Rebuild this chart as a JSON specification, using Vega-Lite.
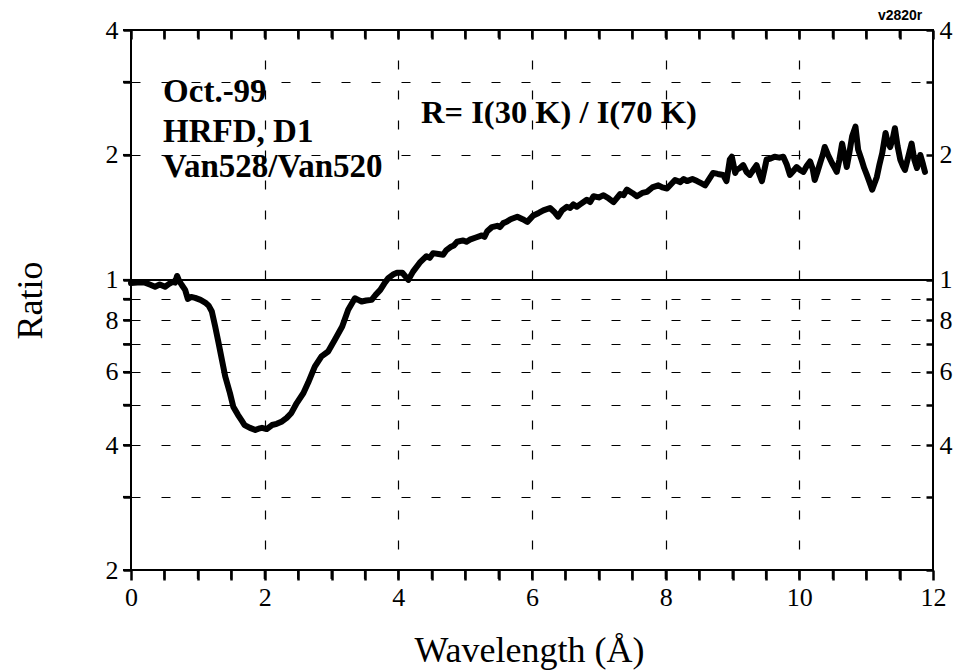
{
  "$schema": "https://vega.github.io/schema/vega-lite/v6.json",
  "width": 802,
  "height": 540,
  "autosize": {"type": "none"},
  "padding": {"left": 131, "top": 30, "right": 21, "bottom": 102},
  "background": "white",
  "config": {
    "view": {"stroke": "black", "strokeWidth": 2},
    "font": "Liberation Serif"
  },
  "datasets": {
    "ratio": [
      {"wavelength": 0.00, "ratio": 0.983}, {"wavelength": 0.10, "ratio": 0.985}, {"wavelength": 0.21, "ratio": 0.985},
      {"wavelength": 0.28, "ratio": 0.975}, {"wavelength": 0.36, "ratio": 0.963}, {"wavelength": 0.43, "ratio": 0.975},
      {"wavelength": 0.51, "ratio": 0.963}, {"wavelength": 0.57, "ratio": 0.978}, {"wavelength": 0.63, "ratio": 0.99},
      {"wavelength": 0.66, "ratio": 0.985}, {"wavelength": 0.69, "ratio": 1.022}, {"wavelength": 0.72, "ratio": 0.995},
      {"wavelength": 0.76, "ratio": 0.972}, {"wavelength": 0.81, "ratio": 0.946}, {"wavelength": 0.85, "ratio": 0.90},
      {"wavelength": 0.90, "ratio": 0.91}, {"wavelength": 0.96, "ratio": 0.905}, {"wavelength": 1.04, "ratio": 0.895},
      {"wavelength": 1.11, "ratio": 0.882}, {"wavelength": 1.16, "ratio": 0.868}, {"wavelength": 1.21, "ratio": 0.839},
      {"wavelength": 1.26, "ratio": 0.772}, {"wavelength": 1.31, "ratio": 0.705}, {"wavelength": 1.36, "ratio": 0.642},
      {"wavelength": 1.41, "ratio": 0.585}, {"wavelength": 1.48, "ratio": 0.534}, {"wavelength": 1.53, "ratio": 0.495},
      {"wavelength": 1.60, "ratio": 0.473}, {"wavelength": 1.65, "ratio": 0.46}, {"wavelength": 1.70, "ratio": 0.447},
      {"wavelength": 1.78, "ratio": 0.44}, {"wavelength": 1.86, "ratio": 0.435}, {"wavelength": 1.91, "ratio": 0.438},
      {"wavelength": 1.96, "ratio": 0.44}, {"wavelength": 2.03, "ratio": 0.437}, {"wavelength": 2.11, "ratio": 0.447},
      {"wavelength": 2.18, "ratio": 0.45}, {"wavelength": 2.26, "ratio": 0.456}, {"wavelength": 2.33, "ratio": 0.465},
      {"wavelength": 2.40, "ratio": 0.478}, {"wavelength": 2.48, "ratio": 0.505}, {"wavelength": 2.58, "ratio": 0.534},
      {"wavelength": 2.65, "ratio": 0.565}, {"wavelength": 2.75, "ratio": 0.618}, {"wavelength": 2.85, "ratio": 0.654},
      {"wavelength": 2.95, "ratio": 0.672}, {"wavelength": 3.05, "ratio": 0.717}, {"wavelength": 3.16, "ratio": 0.772},
      {"wavelength": 3.25, "ratio": 0.847}, {"wavelength": 3.35, "ratio": 0.903}, {"wavelength": 3.40, "ratio": 0.895},
      {"wavelength": 3.45, "ratio": 0.887}, {"wavelength": 3.52, "ratio": 0.892}, {"wavelength": 3.60, "ratio": 0.895},
      {"wavelength": 3.66, "ratio": 0.92}, {"wavelength": 3.73, "ratio": 0.946}, {"wavelength": 3.79, "ratio": 0.98},
      {"wavelength": 3.85, "ratio": 1.01}, {"wavelength": 3.92, "ratio": 1.03}, {"wavelength": 3.98, "ratio": 1.04},
      {"wavelength": 4.06, "ratio": 1.04}, {"wavelength": 4.15, "ratio": 1.00}, {"wavelength": 4.22, "ratio": 1.047},
      {"wavelength": 4.32, "ratio": 1.10}, {"wavelength": 4.37, "ratio": 1.12}, {"wavelength": 4.42, "ratio": 1.14},
      {"wavelength": 4.47, "ratio": 1.13}, {"wavelength": 4.52, "ratio": 1.16},
      {"wavelength": 4.60, "ratio": 1.155}, {"wavelength": 4.67, "ratio": 1.15}, {"wavelength": 4.72, "ratio": 1.18},
      {"wavelength": 4.78, "ratio": 1.20}, {"wavelength": 4.83, "ratio": 1.21},
      {"wavelength": 4.88, "ratio": 1.236}, {"wavelength": 4.97, "ratio": 1.245}, {"wavelength": 5.02, "ratio": 1.235},
      {"wavelength": 5.07, "ratio": 1.25},
      {"wavelength": 5.16, "ratio": 1.265}, {"wavelength": 5.25, "ratio": 1.28}, {"wavelength": 5.29, "ratio": 1.27},
      {"wavelength": 5.33, "ratio": 1.31},
      {"wavelength": 5.40, "ratio": 1.34}, {"wavelength": 5.48, "ratio": 1.35}, {"wavelength": 5.52, "ratio": 1.34},
      {"wavelength": 5.57, "ratio": 1.37}, {"wavelength": 5.62, "ratio": 1.38},
      {"wavelength": 5.68, "ratio": 1.40}, {"wavelength": 5.78, "ratio": 1.42}, {"wavelength": 5.86, "ratio": 1.40},
      {"wavelength": 5.93, "ratio": 1.38}, {"wavelength": 6.02, "ratio": 1.43}, {"wavelength": 6.10, "ratio": 1.45},
      {"wavelength": 6.17, "ratio": 1.47}, {"wavelength": 6.27, "ratio": 1.49}, {"wavelength": 6.33, "ratio": 1.46},
      {"wavelength": 6.39, "ratio": 1.42}, {"wavelength": 6.45, "ratio": 1.47}, {"wavelength": 6.52, "ratio": 1.50},
      {"wavelength": 6.57, "ratio": 1.49},
      {"wavelength": 6.62, "ratio": 1.52}, {"wavelength": 6.67, "ratio": 1.50}, {"wavelength": 6.72, "ratio": 1.52},
      {"wavelength": 6.82, "ratio": 1.56}, {"wavelength": 6.87, "ratio": 1.54},
      {"wavelength": 6.92, "ratio": 1.59}, {"wavelength": 7.00, "ratio": 1.58}, {"wavelength": 7.07, "ratio": 1.60},
      {"wavelength": 7.15, "ratio": 1.57}, {"wavelength": 7.22, "ratio": 1.54}, {"wavelength": 7.32, "ratio": 1.61},
      {"wavelength": 7.37, "ratio": 1.60},
      {"wavelength": 7.42, "ratio": 1.65}, {"wavelength": 7.50, "ratio": 1.62}, {"wavelength": 7.57, "ratio": 1.59},
      {"wavelength": 7.65, "ratio": 1.62}, {"wavelength": 7.72, "ratio": 1.63}, {"wavelength": 7.80, "ratio": 1.67},
      {"wavelength": 7.89, "ratio": 1.69}, {"wavelength": 7.95, "ratio": 1.67}, {"wavelength": 8.02, "ratio": 1.66},
      {"wavelength": 8.08, "ratio": 1.70}, {"wavelength": 8.14, "ratio": 1.74}, {"wavelength": 8.22, "ratio": 1.72},
      {"wavelength": 8.27, "ratio": 1.75},
      {"wavelength": 8.32, "ratio": 1.73}, {"wavelength": 8.40, "ratio": 1.75}, {"wavelength": 8.47, "ratio": 1.73},
      {"wavelength": 8.53, "ratio": 1.71}, {"wavelength": 8.59, "ratio": 1.69}, {"wavelength": 8.65, "ratio": 1.75},
      {"wavelength": 8.71, "ratio": 1.81}, {"wavelength": 8.78, "ratio": 1.80}, {"wavelength": 8.86, "ratio": 1.79},
      {"wavelength": 8.91, "ratio": 1.73}, {"wavelength": 8.96, "ratio": 1.95}, {"wavelength": 8.99, "ratio": 1.98},
      {"wavelength": 9.04, "ratio": 1.81}, {"wavelength": 9.06, "ratio": 1.84}, {"wavelength": 9.11, "ratio": 1.86},
      {"wavelength": 9.16, "ratio": 1.89}, {"wavelength": 9.21, "ratio": 1.82}, {"wavelength": 9.26, "ratio": 1.79},
      {"wavelength": 9.31, "ratio": 1.84}, {"wavelength": 9.36, "ratio": 1.89}, {"wavelength": 9.40, "ratio": 1.80},
      {"wavelength": 9.44, "ratio": 1.73}, {"wavelength": 9.48, "ratio": 1.85}, {"wavelength": 9.51, "ratio": 1.95},
      {"wavelength": 9.57, "ratio": 1.96}, {"wavelength": 9.63, "ratio": 1.98}, {"wavelength": 9.70, "ratio": 1.97},
      {"wavelength": 9.76, "ratio": 1.98}, {"wavelength": 9.81, "ratio": 1.90}, {"wavelength": 9.86, "ratio": 1.79},
      {"wavelength": 9.91, "ratio": 1.83}, {"wavelength": 9.96, "ratio": 1.87}, {"wavelength": 10.01, "ratio": 1.84},
      {"wavelength": 10.06, "ratio": 1.82}, {"wavelength": 10.11, "ratio": 1.88}, {"wavelength": 10.16, "ratio": 1.93},
      {"wavelength": 10.20, "ratio": 1.85}, {"wavelength": 10.23, "ratio": 1.74}, {"wavelength": 10.27, "ratio": 1.82},
      {"wavelength": 10.31, "ratio": 1.91}, {"wavelength": 10.35, "ratio": 2.00}, {"wavelength": 10.38, "ratio": 2.09},
      {"wavelength": 10.43, "ratio": 2.00}, {"wavelength": 10.49, "ratio": 1.91}, {"wavelength": 10.53, "ratio": 1.86},
      {"wavelength": 10.56, "ratio": 1.82}, {"wavelength": 10.60, "ratio": 1.95}, {"wavelength": 10.64, "ratio": 2.13},
      {"wavelength": 10.68, "ratio": 1.98}, {"wavelength": 10.71, "ratio": 1.87}, {"wavelength": 10.75, "ratio": 2.03},
      {"wavelength": 10.79, "ratio": 2.22}, {"wavelength": 10.84, "ratio": 2.34}, {"wavelength": 10.88, "ratio": 2.06},
      {"wavelength": 10.93, "ratio": 1.95}, {"wavelength": 10.97, "ratio": 1.86}, {"wavelength": 11.01, "ratio": 1.79},
      {"wavelength": 11.05, "ratio": 1.72}, {"wavelength": 11.09, "ratio": 1.65}, {"wavelength": 11.12, "ratio": 1.70},
      {"wavelength": 11.16, "ratio": 1.77}, {"wavelength": 11.20, "ratio": 1.90}, {"wavelength": 11.24, "ratio": 2.02},
      {"wavelength": 11.29, "ratio": 2.26}, {"wavelength": 11.32, "ratio": 2.15}, {"wavelength": 11.36, "ratio": 2.09},
      {"wavelength": 11.40, "ratio": 2.20}, {"wavelength": 11.43, "ratio": 2.32}, {"wavelength": 11.47, "ratio": 2.10},
      {"wavelength": 11.51, "ratio": 1.95}, {"wavelength": 11.55, "ratio": 1.88}, {"wavelength": 11.58, "ratio": 1.84},
      {"wavelength": 11.63, "ratio": 1.98}, {"wavelength": 11.68, "ratio": 2.13}, {"wavelength": 11.72, "ratio": 1.95},
      {"wavelength": 11.76, "ratio": 1.86}, {"wavelength": 11.81, "ratio": 2.00}, {"wavelength": 11.85, "ratio": 1.90},
      {"wavelength": 11.88, "ratio": 1.82}
    ],
    "notes": [
      {"label": "Oct.-99", "line": 1},
      {"label": "HRFD, D1", "line": 2},
      {"label": "Van528/Van520", "line": 3}
    ],
    "xticks": [
      {"pos": 0.5}, {"pos": 1}, {"pos": 1.5}, {"pos": 2}, {"pos": 2.5}, {"pos": 3}, {"pos": 3.5}, {"pos": 4},
      {"pos": 4.5}, {"pos": 5}, {"pos": 5.5}, {"pos": 6}, {"pos": 6.5}, {"pos": 7}, {"pos": 7.5}, {"pos": 8},
      {"pos": 8.5}, {"pos": 9}, {"pos": 9.5}, {"pos": 10}, {"pos": 10.5}, {"pos": 11}, {"pos": 11.5}
    ],
    "yticks": [
      {"pos": 0.2}, {"pos": 0.3}, {"pos": 0.4}, {"pos": 0.5}, {"pos": 0.6}, {"pos": 0.7}, {"pos": 0.8}, {"pos": 0.9},
      {"pos": 1}, {"pos": 2}, {"pos": 3}, {"pos": 4}
    ]
  },
  "layer": [
    {
      "data": {"name": "ratio"},
      "mark": {"type": "line", "color": "black", "strokeWidth": 6, "strokeJoin": "round", "strokeCap": "round"},
      "encoding": {
        "x": {
          "field": "wavelength", "type": "quantitative",
          "scale": {"domain": [0, 12], "nice": false, "zero": false},
          "axis": {
            "orient": "bottom",
            "values": [0, 0.5, 1, 1.5, 2, 2.5, 3, 3.5, 4, 4.5, 5, 5.5, 6, 6.5, 7, 7.5, 8, 8.5, 9, 9.5, 10, 10.5, 11, 11.5, 12],
            "labelExpr": "datum.value % 2 == 0 ? format(datum.value, 'd') : ''",
            "domain": false,
            "grid": true, "gridColor": "black", "gridDash": [9, 21], "gridWidth": 1.2,
            "gridOpacity": {"condition": {"test": "datum.value % 2 == 0 && datum.value > 0 && datum.value < 12", "value": 1}, "value": 0},
            "ticks": true, "tickColor": "#000000", "tickOpacity": 1, "tickWidth": 2.5, "tickSize": 10,
            "labelColor": "black", "labelFont": "Liberation Serif",
            "labelFontSize": 26, "labelPadding": 4, "labelFlush": false, "labelOverlap": false,
            "title": "Wavelength (Å)", "titleFont": "Liberation Serif", "titleColor": "black", "titleFontSize": 36, "titleFontWeight": "normal",
            "titleX": 398, "titleY": 91, "titleBaseline": "alphabetic", "titleAlign": "center"
          }
        },
        "y": {
          "field": "ratio", "type": "quantitative",
          "scale": {"type": "log", "domain": [0.2, 4], "nice": false},
          "axis": {
            "orient": "left",
            "values": [0.2, 0.3, 0.4, 0.5, 0.6, 0.7, 0.8, 0.9, 1, 2, 3, 4],
            "labelExpr": "datum.value == 4 ? '4' : datum.value == 2 ? '2' : datum.value == 1 ? '1' : datum.value == 0.8 ? '8' : datum.value == 0.6 ? '6' : datum.value == 0.4 ? '4' : datum.value == 0.2 ? '2' : ''",
            "domain": false,
            "grid": true, "gridColor": "black", "gridDash": [9, 21], "gridWidth": 1.2,
            "gridOpacity": {"condition": {"test": "datum.value == 1 || datum.value == 0.2 || datum.value == 4", "value": 0}, "value": 1},
            "ticks": true, "tickColor": "#000000", "tickOpacity": 1, "tickWidth": 2.5, "tickSize": 8,
            "labelColor": "black", "labelFont": "Liberation Serif",
            "labelFontSize": 26, "labelPadding": 5, "labelOverlap": false, "labelFlush": false,
            "title": "Ratio", "titleFont": "Liberation Serif", "titleColor": "black", "titleFontSize": 36, "titleFontWeight": "normal",
            "titleAngle": -90, "titleX": -101, "titleY": 270, "titleAlign": "center", "titleBaseline": "middle"
          }
        }
      }
    },
    {
      "data": {"name": "ratio"},
      "mark": {"type": "line", "opacity": 0},
      "encoding": {
        "x": {
          "field": "wavelength", "type": "quantitative",
          "scale": {"domain": [0, 12], "nice": false, "zero": false},
          "axis": {
            "orient": "top",
            "values": [0, 0.5, 1, 1.5, 2, 2.5, 3, 3.5, 4, 4.5, 5, 5.5, 6, 6.5, 7, 7.5, 8, 8.5, 9, 9.5, 10, 10.5, 11, 11.5, 12],
            "labels": false, "domain": false, "grid": false, "ticks": true, "tickWidth": 2.5, "tickSize": -9, "tickColor": "#000000", "tickOpacity": 1, "title": null
          }
        },
        "y": {
          "field": "ratio", "type": "quantitative",
          "scale": {"type": "log", "domain": [0.2, 4], "nice": false},
          "axis": {
            "orient": "right",
            "values": [0.2, 0.3, 0.4, 0.5, 0.6, 0.7, 0.8, 0.9, 1, 2, 3, 4],
            "labelExpr": "datum.value == 4 ? '4' : datum.value == 2 ? '2' : datum.value == 1 ? '1' : datum.value == 0.8 ? '8' : datum.value == 0.6 ? '6' : datum.value == 0.4 ? '4' : ''",
            "domain": false, "grid": false, "ticks": true, "tickWidth": 2.5, "tickSize": -7, "tickColor": "#000000", "tickOpacity": 1,
            "labelColor": "black", "labelFont": "Liberation Serif",
            "labelFontSize": 26, "labelPadding": 13, "labelOverlap": false, "labelFlush": false, "title": null
          }
        }
      }
    },
    {
      "data": {"name": "xticks"},
      "mark": {"type": "rule", "color": "black", "strokeWidth": 2, "clip": false},
      "encoding": {
        "x": {"field": "pos", "type": "quantitative", "scale": {"domain": [0, 12], "nice": false, "zero": false}, "axis": null},
        "y": {"datum": 4, "type": "quantitative", "scale": {"type": "log", "domain": [0.2, 4], "nice": false}, "axis": null},
        "y2": {"datum": 3.83}
      }
    },
    {
      "data": {"name": "xticks"},
      "mark": {"type": "rule", "color": "black", "strokeWidth": 2, "clip": false},
      "encoding": {
        "x": {"field": "pos", "type": "quantitative", "scale": {"domain": [0, 12], "nice": false, "zero": false}, "axis": null},
        "y": {"datum": 0.2, "type": "quantitative", "scale": {"type": "log", "domain": [0.2, 4], "nice": false}, "axis": null},
        "y2": {"datum": 0.1903}
      }
    },
    {
      "data": {"name": "yticks"},
      "mark": {"type": "rule", "color": "black", "strokeWidth": 2, "clip": false},
      "encoding": {
        "y": {"field": "pos", "type": "quantitative", "scale": {"type": "log", "domain": [0.2, 4], "nice": false}, "axis": null},
        "x": {"datum": 0, "type": "quantitative", "scale": {"domain": [0, 12], "nice": false, "zero": false}, "axis": null},
        "x2": {"datum": -0.12}
      }
    },
    {
      "data": {"values": [{"ref": 1}]},
      "mark": {"type": "rule", "color": "black", "strokeWidth": 2},
      "encoding": {
        "y": {"field": "ref", "type": "quantitative", "scale": {"type": "log", "domain": [0.2, 4], "nice": false}, "axis": null}
      }
    },
    {
      "data": {"name": "notes"},
      "transform": [{"filter": "datum.line == 1"}],
      "mark": {"type": "text", "font": "Liberation Serif", "fontWeight": "bold", "fontSize": 33, "align": "left", "baseline": "alphabetic", "color": "black"},
      "encoding": {
        "x": {"datum": 0.48, "type": "quantitative", "scale": {"domain": [0, 12], "nice": false, "zero": false}, "axis": null},
        "y": {"datum": 2.685, "type": "quantitative", "scale": {"type": "log", "domain": [0.2, 4], "nice": false}, "axis": null},
        "text": {"field": "label"}
      }
    },
    {
      "data": {"name": "notes"},
      "transform": [{"filter": "datum.line == 2"}],
      "mark": {"type": "text", "font": "Liberation Serif", "fontWeight": "bold", "fontSize": 33, "align": "left", "baseline": "alphabetic", "color": "black"},
      "encoding": {
        "x": {"datum": 0.48, "type": "quantitative", "scale": {"domain": [0, 12], "nice": false, "zero": false}, "axis": null},
        "y": {"datum": 2.15, "type": "quantitative", "scale": {"type": "log", "domain": [0.2, 4], "nice": false}, "axis": null},
        "text": {"field": "label"}
      }
    },
    {
      "data": {"name": "notes"},
      "transform": [{"filter": "datum.line == 3"}],
      "mark": {"type": "text", "font": "Liberation Serif", "fontWeight": "bold", "fontSize": 33, "align": "left", "baseline": "alphabetic", "color": "black"},
      "encoding": {
        "x": {"datum": 0.48, "type": "quantitative", "scale": {"domain": [0, 12], "nice": false, "zero": false}, "axis": null},
        "y": {"datum": 1.77, "type": "quantitative", "scale": {"type": "log", "domain": [0.2, 4], "nice": false}, "axis": null},
        "text": {"field": "label"}
      }
    },
    {
      "data": {"values": [{"label": "R= I(30 K) / I(70 K)"}]},
      "mark": {"type": "text", "font": "Liberation Serif", "fontWeight": "bold", "fontSize": 32.5, "align": "left", "baseline": "alphabetic", "color": "black"},
      "encoding": {
        "x": {"datum": 4.34, "type": "quantitative", "scale": {"domain": [0, 12], "nice": false, "zero": false}, "axis": null},
        "y": {"datum": 2.39, "type": "quantitative", "scale": {"type": "log", "domain": [0.2, 4], "nice": false}, "axis": null},
        "text": {"field": "label"}
      }
    },
    {
      "data": {"values": [{"label": "v2820r"}]},
      "mark": {"type": "text", "font": "Liberation Sans", "fontWeight": "bold", "fontSize": 14, "align": "right", "baseline": "alphabetic", "color": "black", "clip": false},
      "encoding": {
        "x": {"datum": 11.84, "type": "quantitative", "scale": {"domain": [0, 12], "nice": false, "zero": false}, "axis": null},
        "y": {"datum": 4.23, "type": "quantitative", "scale": {"type": "log", "domain": [0.2, 4], "nice": false}, "axis": null},
        "text": {"field": "label"}
      }
    }
  ],
  "resolve": {"axis": {"x": "independent", "y": "independent"}}
}
